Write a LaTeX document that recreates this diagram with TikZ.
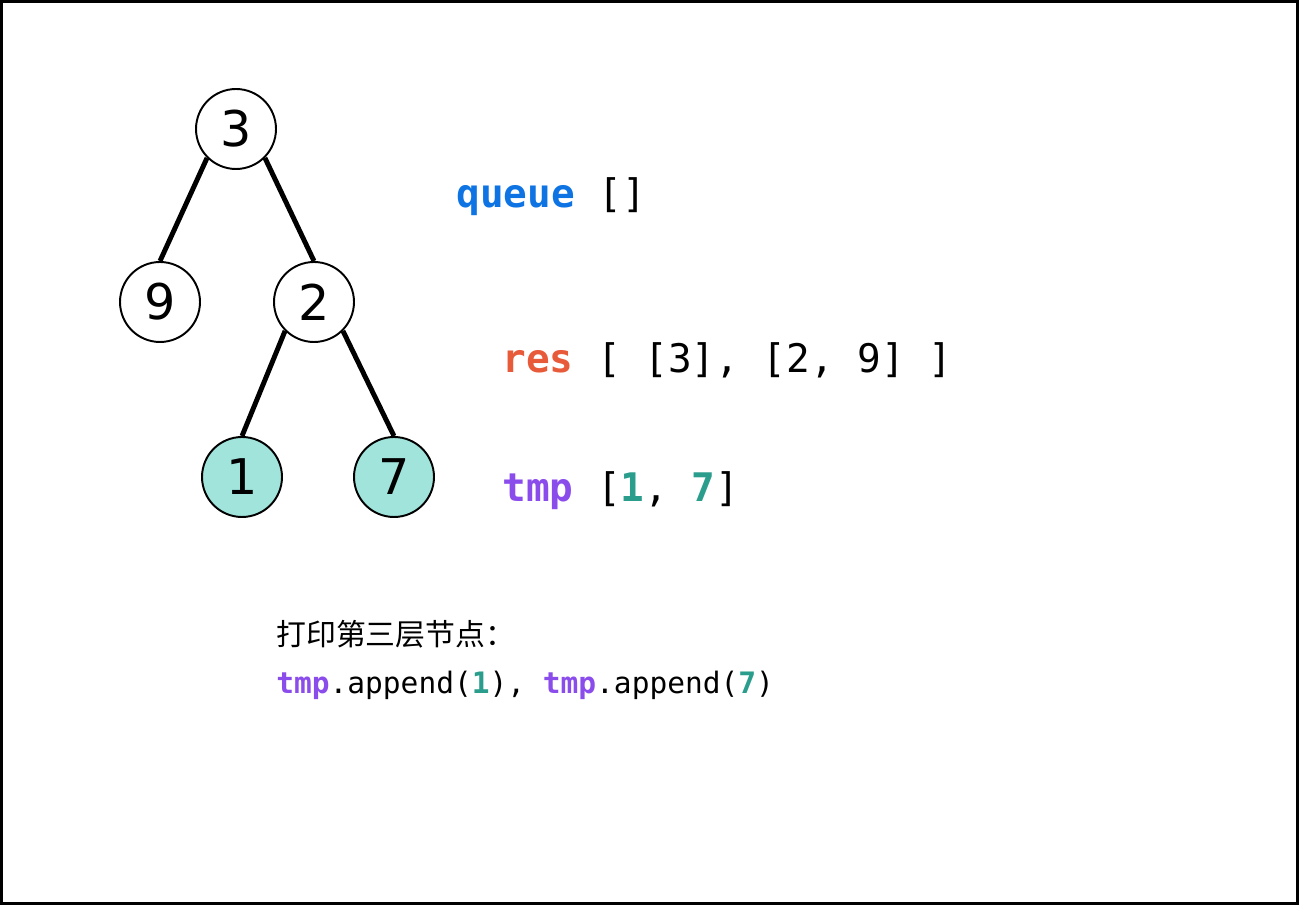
\documentclass[tikz,border=0pt]{standalone}
\usepackage{fontspec}
\usepackage{xcolor}
\setmainfont{DejaVu Sans}
\setmonofont{DejaVu Sans Mono}
\newfontfamily\cjk{Noto Sans CJK SC}
\usepackage{tikz}

\definecolor{queueblue}{HTML}{0E73E3}
\definecolor{resred}{HTML}{E85B3A}
\definecolor{tmppurple}{HTML}{8B4CEC}
\definecolor{numteal}{HTML}{2A9D8C}
\definecolor{leafteal}{HTML}{A0E4DC}

\begin{document}
\begin{tikzpicture}[
    x=0.02cm, y=-0.02cm,
    treenode/.style={circle, draw, line width=1.1pt, minimum size=1.6cm, inner sep=0pt, font=\fontsize{28}{28}\selectfont},
    leafnode/.style={treenode, fill=leafteal},
    treeedge/.style={line width=2.8pt},
    codeline/.style={anchor=base west, inner sep=0pt, font=\ttfamily\fontsize{22.4}{22.4}\selectfont},
    noteline/.style={anchor=base west, inner sep=0pt, font=\ttfamily\fontsize{16.8}{16.8}\selectfont}
]
\useasboundingbox (0,0) rectangle (1299,905);
\draw[line width=0.06cm] (1.5,1.5) rectangle (1297.5,903.5);

\node[treenode] (n3) at (236,129) {3};
\node[treenode] (n9) at (160,302) {9};
\node[treenode] (n2) at (314,302) {2};
\node[leafnode] (n1) at (242,477) {1};
\node[leafnode] (n7) at (394,477) {7};

\draw[treeedge] (n3.south west) -- (n9.north);
\draw[treeedge] (n3.south east) -- (n2.north);
\draw[treeedge] (n2.south west) -- (n1.north);
\draw[treeedge] (n2.south east) -- (n7.north);

\node[codeline] (queue) at (456,208) {\textcolor{queueblue}{\bfseries queue} []};
\node[codeline] (res) at (502,373) {\textcolor{resred}{\bfseries res} [ [3], [2, 9] ]};
\node[codeline] (tmp) at (502,502) {\textcolor{tmppurple}{\bfseries tmp} [\textcolor{numteal}{\bfseries 1}, \textcolor{numteal}{\bfseries 7}]};

\node[anchor=base west, inner sep=0pt, font=\cjk\fontsize{17}{17}\selectfont] (title) at (276,645) {打印第三层节点：};
\node[noteline] (append) at (276,693) {\textcolor{tmppurple}{\bfseries tmp}.append(\textcolor{numteal}{\bfseries 1}), \textcolor{tmppurple}{\bfseries tmp}.append(\textcolor{numteal}{\bfseries 7})};

\end{tikzpicture}
\end{document}
